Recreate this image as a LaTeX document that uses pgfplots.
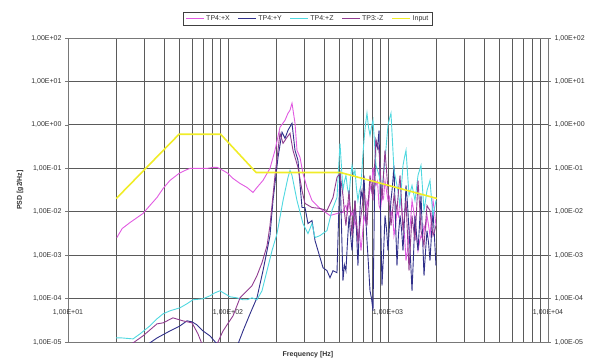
\documentclass[border=0pt]{standalone}
\usepackage{fontspec}
\setmainfont{Liberation Sans}
\usepackage{pgfplots}
\pgfplotsset{compat=1.18}
\definecolor{cX}{RGB}{225,90,225}
\definecolor{cY}{RGB}{48,48,138}
\definecolor{cZ}{RGB}{80,216,224}
\definecolor{cM}{RGB}{144,60,144}
\definecolor{cIn}{RGB}{240,236,40}
\definecolor{gridc}{RGB}{90,90,90}
\definecolor{axc}{RGB}{120,120,120}
\definecolor{txtc}{RGB}{50,50,50}
\begin{document}
\begin{tikzpicture}
\useasboundingbox (-68pt,-18pt) rectangle (527pt,342pt);
\begin{axis}[
  at={(0,0)}, anchor=south west,
  scale only axis, width=480pt, height=304pt,
  xmode=log, ymode=log,
  xmin=10, xmax=10000, ymin=1e-5, ymax=100,
  xtick={10,100,1000,10000},
  xticklabels={{1,00E+01},{1,00E+02},{1,00E+03},{1,00E+04}},
  minor xtick={20,30,40,50,60,70,80,90,200,300,400,500,600,700,800,900,2000,3000,4000,5000,6000,7000,8000,9000},
  ytick={1e-5,1e-4,1e-3,1e-2,1e-1,1,10,100},
  yticklabels={{1,00E-05},{1,00E-04},{1,00E-03},{1,00E-02},{1,00E-01},{1,00E+00},{1,00E+01},{1,00E+02}},
  yminorticks=false,
  xmajorgrids=true, xminorgrids=true, ymajorgrids=true,
  major grid style={gridc, line width=0.9pt},
  minor grid style={gridc, line width=0.9pt},
  axis line style={axc, line width=0.9pt},
  xtick style={draw=none},
  ytick style={axc, line width=0.6pt},
  tick align=outside, major tick length=3pt,
  ticklabel style={font=\fontsize{7}{8}\selectfont, text=txtc},
  xticklabel style={yshift=39pt},
  xlabel={Frequency [Hz]}, ylabel={PSD [g2/Hz]},
  every axis x label/.style={at={(axis description cs:0.5,-0.043)}, anchor=center, font=\bfseries\fontsize{7}{8}\selectfont, text=txtc},
  every axis y label/.style={at={(axis description cs:-0.1,0.5)}, rotate=90, anchor=center, font=\bfseries\fontsize{7}{8}\selectfont, text=txtc},
  legend columns=-1,
  legend style={at={(0.5,1)}, anchor=south, yshift=13pt, draw=black!75, line width=0.5pt, font=\fontsize{7}{8}\selectfont, text=txtc, inner xsep=2pt, inner ysep=1pt, /tikz/every even column/.append style={column sep=6pt}},
  legend image code/.code={\draw[#1] (0cm,0cm) -- (0.62cm,0cm);},
]
% TP4:+X
\addplot[cX, line width=0.9pt] coordinates {
(20.2,0.00254)(21.8,0.00409)(24.4,0.00563)(29.4,0.00909)(32.5,0.0139)(36.0,0.0213)(39.3,0.0343)(43.4,0.0526)(49.4,0.0762)(53.9,0.0894)(57.9,0.0995)(66.8,0.0995)(73.9,0.0995)(80.6,0.1049)(85.4,0.1049)(93.1,0.0894)(100,0.0762)(107.5,0.0584)(118.9,0.0448)(131.5,0.0362)(143.3,0.0278)(151.7,0.0362)(165.5,0.0526)(183.0,0.0995)(196.7,0.259)(211.3,0.880)(227.2,1.277)(237.1,1.853)(244.1,2.174)(251.2,3.155)(262.3,1.089)(269.9,0.259)(281.8,0.1786)(294.3,0.0762)(311.7,0.0362)(335.0,0.0181)(375.8,0.0119)(434.0,0.00817)(479.9,0.00909)(501.2,0.00958)
(523,0.00958)(534,0.0125)(546,0.0139)(558,0.0094)(571,0.0181)(583,0.0110)(596,0.00817)(609,0.0105)(622,0.00480)(635,0.0061)(649,0.00216)(663,0.0034)(678,0.00127)(693,0.0030)(708,0.00817)(723,0.0060)(739,0.0181)(755,0.0140)(772,0.0403)(789,0.030)(806,0.1049)(823,0.060)(841,0.0403)(860,0.050)(879,0.0139)(898,0.0110)(917,0.0237)(937,0.020)(958,0.0526)(979,0.030)(1000,0.0181)(1022,0.022)(1044,0.00817)(1067,0.0105)(1090,0.00282)(1114,0.0045)(1138,0.0107)(1163,0.0080)(1189,0.0181)(1215,0.0140)(1241,0.00480)(1268,0.0030)(1296,0.000746)(1324,0.0013)(1353,0.00282)(1383,0.0060)(1413,0.0181)(1444,0.011)(1475,0.00626)(1507,0.0028)(1540,0.00127)(1574,0.0020)(1608,0.00282)(1643,0.0024)(1679,0.00480)(1716,0.0038)(1753,0.00817)(1791,0.0050)(1830,0.00282)(1870,0.0070)(1911,0.0181)(1953,0.0100)(1995,0.00480)
};
\addlegendentry{TP4:+X}
% TP4:+Y
\addplot[cY, line width=0.9pt] coordinates {
(30.3,0.000008)(36.0,0.0000124)(43.4,0.0000180)(50.1,0.0000235)(55.4,0.0000307)(59.6,0.0000291)(64.0,0.0000248)(69.8,0.0000180)(77.2,0.0000138)(85.4,0.0000090)(89.1,0.000006)(112.2,0.000006)(115.5,0.0000090)(124.1,0.0000180)(137.3,0.0000446)(151.7,0.000104)(165.5,0.000439)(175.4,0.00127)(183.0,0.00282)(191.1,0.0181)(205.4,0.1786)(217.6,0.675)(227.2,0.490)(237.1,0.750)(251.2,1.089)(262.3,0.259)(273.8,0.1522)(290.1,0.0125)(302.8,0.0125)(316.2,0.00534)(335.0,0.00626)(349.9,0.00216)(365.2,0.00127)(392.5,0.000514)(415.7,0.000439)(434.0,0.000302)(453.2,0.000439)(479.9,0.000394)(501.2,0.0894)
(523,0.000258)(534,0.00060)(546,0.000439)(558,0.0020)(571,0.00817)(583,0.0030)(596,0.00127)(609,0.0050)(622,0.0181)(635,0.0040)(649,0.000572)(663,0.0060)(678,0.0309)(693,0.0200)(708,0.0686)(723,0.0100)(739,0.00216)(755,0.0006)(772,0.000151)(789,0.00010)(806,0.0000523)(823,0.020)(841,0.441)(860,0.300)(879,0.750)(898,0.010)(917,0.000198)(937,0.0010)(958,0.00817)(979,0.0040)(1000,0.00127)(1022,0.0050)(1044,0.0181)(1067,0.0400)(1090,0.1167)(1114,0.0060)(1138,0.000572)(1163,0.0030)(1189,0.00817)(1215,0.0040)(1241,0.00127)(1268,0.0070)(1296,0.0403)(1324,0.0150)(1353,0.00368)(1383,0.0008)(1413,0.000151)(1444,0.0010)(1475,0.00817)(1507,0.0030)(1540,0.00127)(1574,0.0050)(1608,0.0237)(1643,0.0030)(1679,0.000336)(1716,0.0012)(1753,0.00368)(1791,0.0020)(1830,0.000746)(1870,0.0030)(1911,0.0107)(1953,0.0025)(1995,0.000572)
};
\addlegendentry{TP4:+Y}
% TP4:+Z
\addplot[cZ, line width=0.9pt] coordinates {
(20,0.0000124)(21.8,0.0000124)(25.5,0.0000118)(28.2,0.0000154)(32.5,0.0000235)(36.0,0.0000342)(39.3,0.0000446)(43.4,0.0000523)(50.1,0.0000613)(55.4,0.0000759)(60.4,0.0000938)(69.8,0.0000989)(77.2,0.000116)(82.9,0.000136)(89.1,0.000151)(95.8,0.000129)(102.9,0.000110)(113.8,0.000104)(124.1,0.0000938)(131.5,0.0000938)(141.3,0.000104)(151.7,0.0000938)(163.1,0.000151)(175.4,0.000439)(188.4,0.00127)(202.5,0.00314)(220.8,0.0181)(237.1,0.0616)(244.1,0.0894)(251.2,0.0686)(269.9,0.0181)(294.3,0.00534)(316.2,0.00314)(335.0,0.00534)(349.9,0.00254)(375.8,0.00282)(415.7,0.00368)(446.7,0.0107)(479.9,0.0213)(501.2,0.376)
(523,0.0309)(534,0.0500)(546,0.0686)(558,0.0350)(571,0.0237)(583,0.0600)(596,0.1167)(609,0.0700)(622,0.0894)(635,0.0350)(649,0.0181)(663,0.0300)(678,0.0403)(693,0.150)(708,0.441)(723,1.000)(739,1.853)(755,0.900)(772,0.575)(789,0.900)(806,1.277)(823,0.400)(841,0.1167)(860,0.0900)(879,0.0686)(898,0.0500)(917,0.0309)(937,0.0700)(958,0.1522)(979,0.400)(1000,0.979)(1022,1.400)(1044,1.853)(1067,0.400)(1090,0.0894)(1114,0.0600)(1138,0.0403)(1163,0.0250)(1189,0.0139)(1215,0.0400)(1241,0.1167)(1268,0.180)(1296,0.259)(1324,0.0800)(1353,0.0237)(1383,0.0300)(1413,0.0403)(1444,0.0270)(1475,0.0181)(1507,0.0350)(1540,0.0686)(1574,0.0900)(1608,0.1167)(1643,0.0350)(1679,0.0107)(1716,0.0180)(1753,0.0309)(1791,0.0400)(1830,0.0526)(1870,0.0200)(1911,0.00817)(1953,0.0120)(1995,0.0181)
};
\addlegendentry{TP4:+Z}
% TP3:-Z
\addplot[cM, line width=0.9pt] coordinates {
(23.7,0.000006)(24.4,0.0000085)(29.4,0.0000138)(36.0,0.0000262)(39.3,0.0000276)(45.3,0.0000360)(52.3,0.0000307)(59.6,0.0000276)(64.9,0.0000154)(68.8,0.0000090)(71.8,0.000006)(81.8,0.000006)(85.4,0.0000090)(93.1,0.0000180)(107.5,0.0000401)(118.9,0.000104)(131.5,0.000151)(141.3,0.000198)(151.7,0.000336)(163.1,0.000671)(175.4,0.00166)(183.0,0.00480)(196.7,0.0686)(211.3,0.640)(220.8,0.376)(233.7,0.517)(244.1,0.640)(254.8,0.259)(273.8,0.1049)(290.1,0.0309)(302.8,0.0155)(335.0,0.0125)(375.8,0.0119)(415.7,0.0107)(453.2,0.0213)(479.9,0.0616)(501.2,0.0762)
(523,0.0237)(534,0.0100)(546,0.00480)(558,0.0120)(571,0.0309)(583,0.0090)(596,0.00282)(609,0.0070)(622,0.0181)(635,0.0060)(649,0.00216)(663,0.0040)(678,0.00817)(693,0.0150)(708,0.0309)(723,0.0120)(739,0.00480)(755,0.0200)(772,0.0686)(789,0.0350)(806,0.0181)(823,0.100)(841,0.441)(860,0.350)(879,0.259)(898,0.0700)(917,0.0181)(937,0.0700)(958,0.259)(979,0.0900)(1000,0.0309)(1022,0.0120)(1044,0.00480)(1067,0.0100)(1090,0.0237)(1114,0.0160)(1138,0.0107)(1163,0.0300)(1189,0.0686)(1215,0.0160)(1241,0.00368)(1268,0.0080)(1296,0.0181)(1324,0.0030)(1353,0.000439)(1383,0.0020)(1413,0.00817)(1444,0.0040)(1475,0.00216)(1507,0.0100)(1540,0.0526)(1574,0.0150)(1608,0.00368)(1643,0.0025)(1679,0.00166)(1716,0.0050)(1753,0.0139)(1791,0.0120)(1830,0.0107)(1870,0.0055)(1911,0.00282)(1953,0.0035)(1995,0.00480)
};
\addlegendentry{TP3:-Z}
% Input
\addplot[cIn, line width=1.6pt] coordinates {
(20,0.02)(49.4,0.607)(90,0.607)(150,0.080)(505,0.080)(2024,0.0202)
};
\addlegendentry{Input}
\end{axis}
\begin{axis}[
  at={(0,0)}, anchor=south west,
  scale only axis, width=480pt, height=304pt,
  xmode=log, ymode=log,
  xmin=10, xmax=10000, ymin=1e-5, ymax=100,
  axis x line=none, axis y line*=right,
  ytick={1e-5,1e-4,1e-3,1e-2,1e-1,1,10,100},
  yticklabels={{1,00E-05},{1,00E-04},{1,00E-03},{1,00E-02},{1,00E-01},{1,00E+00},{1,00E+01},{1,00E+02}},
  yminorticks=false,
  axis line style={axc, line width=0.9pt, -},
  ytick style={axc, line width=0.6pt},
  tick align=outside, major tick length=3pt,
  ticklabel style={font=\fontsize{7}{8}\selectfont, text=txtc},
]
\end{axis}
\end{tikzpicture}
\end{document}
